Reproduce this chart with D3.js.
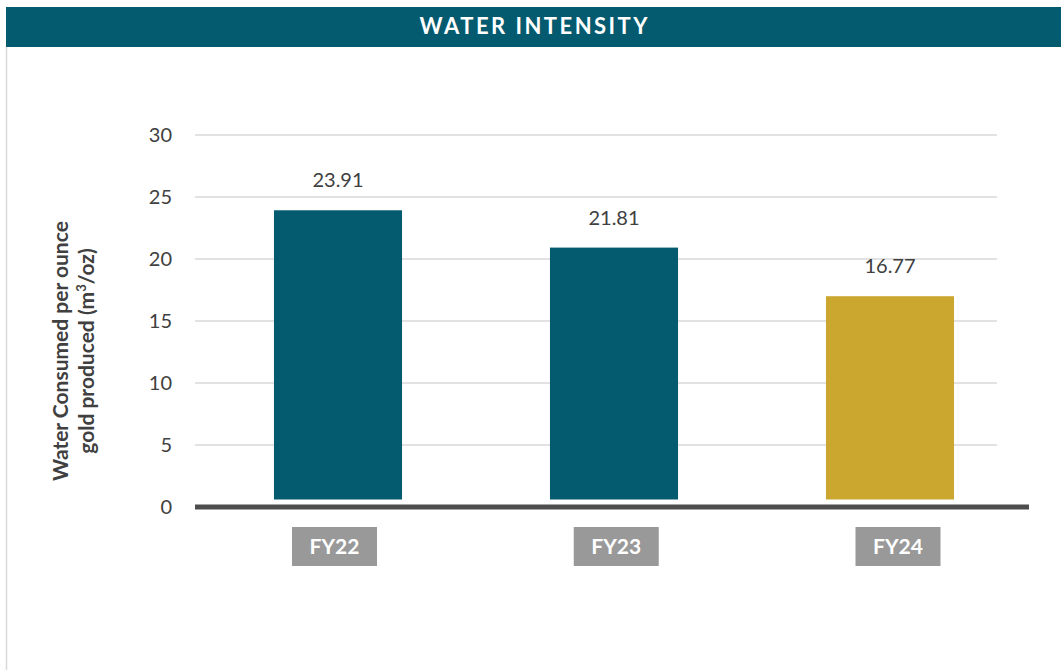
<!DOCTYPE html>
<html>
<head>
<meta charset="utf-8">
<script src="https://cdn.jsdelivr.net/npm/d3@7"></script>
<style>
    body { margin: 0; background: #ffffff; }
    svg { display: block; font-family: Lato, "Open Sans", sans-serif; }
</style>
</head>
<body>
<div id="chart"></div>
<script>
// data
const categories = ['FY22', 'FY23', 'FY24'];
const barValues = [23.93, 20.92, 17.0];          // bar heights as drawn
const valueLabels = ['23.91', '21.81', '16.77'];  // printed labels
const yTicks = [0, 5, 10, 15, 20, 25, 30];
const barColors = ['#045a6e', '#045a6e', '#cba72f'];

const W = 1061, H = 670;

const svg = d3.select('#chart')
    .append('svg')
        .attr('width', W)
        .attr('height', H);

// frame: header band + left rule
svg.append('line')
    .attr('x1', 6.5).attr('x2', 6.5)
    .attr('y1', 47).attr('y2', H)
    .style('stroke', '#d9d9d9')
    .style('stroke-width', 1.5);

svg.append('rect')
    .attr('x', 6).attr('y', 7)
    .attr('width', W - 6).attr('height', 40)
    .style('fill', '#045a6e');

svg.append('text')
    .attr('x', (6 + W) / 2)
    .attr('y', 34)
    .attr('textLength', 228)
    .attr('lengthAdjust', 'spacing')
    .text('WATER INTENSITY')
    .style('text-anchor', 'middle')
    .style('fill', '#ffffff')
    .style('font-weight', 'bold')
    .style('font-size', '22px');

// scales
const y = d3.scaleLinear()
    .domain([0, 30])
    .range([507, 135]);

const x = d3.scaleBand()
    .domain(categories)
    .range([200, 1028])
    .paddingInner(0.536)
    .paddingOuter(0.268);

// the category boxes sit a little off the bar centres
const xBox = d3.scalePoint()
    .domain(categories)
    .range([334.5, 898]);

// gridlines
svg.append('g')
    .selectAll('line')
    .data(yTicks.filter(d => d > 0))
    .enter().append('line')
        .attr('x1', 195).attr('x2', 997)
        .attr('y1', d => y(d)).attr('y2', d => y(d))
        .style('stroke', '#d9d9d9')
        .style('stroke-width', 1.5);

// y axis labels
const yAxis = svg.append('g')
    .attr('transform', 'translate(172,0)')
    .call(d3.axisLeft(y).tickValues(yTicks).tickSize(0).tickPadding(0));
yAxis.select('.domain').remove();
yAxis.selectAll('text')
    .style('font-family', 'Lato, sans-serif')
    .style('font-size', '20px')
    .style('fill', '#404040');

// bars (drawn with a small gap above the baseline, as in the original)
const gap = 7.5;
svg.selectAll('.bar')
    .data(barValues)
    .enter().append('rect')
        .attr('class', 'bar')
        .attr('x', (d, i) => x(categories[i]))
        .attr('width', x.bandwidth())
        .attr('y', d => y(d))
        .attr('height', d => y(0) - gap - y(d))
        .style('fill', (d, i) => barColors[i]);

// value labels
svg.selectAll('.val')
    .data(barValues)
    .enter().append('text')
        .attr('class', 'val')
        .attr('x', (d, i) => x(categories[i]) + x.bandwidth() / 2)
        .attr('y', d => y(d) - 23)
        .text((d, i) => valueLabels[i])
        .style('text-anchor', 'middle')
        .style('font-size', '20px')
        .style('fill', '#404040');

// baseline
svg.append('line')
    .attr('x1', 195).attr('x2', 1029)
    .attr('y1', y(0)).attr('y2', y(0))
    .style('stroke', '#4d4d4d')
    .style('stroke-width', 5);

// category boxes
const boxes = svg.selectAll('.cat')
    .data(categories)
    .enter().append('g')
        .attr('class', 'cat')
        .attr('transform', d => 'translate(' + xBox(d) + ',527)');

boxes.append('rect')
    .attr('x', -42.5).attr('width', 85)
    .attr('height', 39)
    .style('fill', '#999999');

boxes.append('text')
    .attr('y', 27)
    .text(d => d)
    .style('text-anchor', 'middle')
    .style('fill', '#ffffff')
    .style('font-weight', 'bold')
    .style('font-size', '21px');

// y axis title, two lines, rotated
const title = svg.append('text')
    .attr('transform', 'translate(0,351) rotate(-90)')
    .style('text-anchor', 'middle')
    .style('fill', '#404040')
    .style('font-weight', 'bold')
    .style('font-size', '21px');

title.append('tspan')
    .attr('x', 0).attr('y', 68)
    .text('Water Consumed per ounce');

const line2 = title.append('tspan')
    .attr('x', 0).attr('y', 94)
    .text('gold produced (m');
line2.append('tspan')
    .attr('dy', -8)
    .style('font-size', '13px')
    .text('3');
line2.append('tspan')
    .attr('dy', 8)
    .text('/oz)');
</script>
</body>
</html>
